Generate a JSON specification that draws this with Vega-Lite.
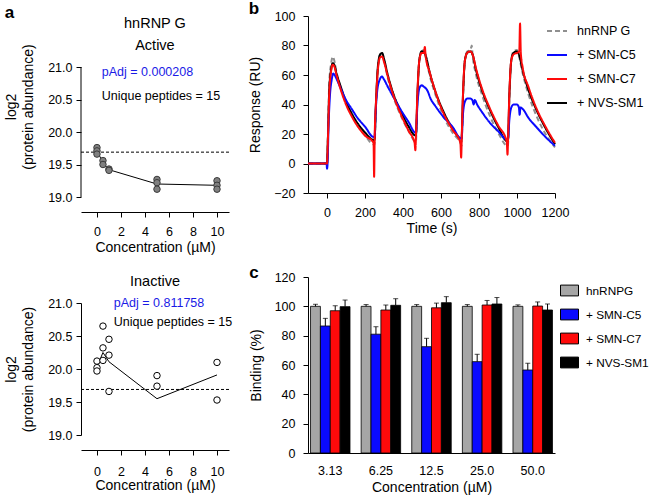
{
  "$schema": "https://vega.github.io/schema/vega-lite/v6.json",
  "padding": {"left": 4, "top": 0, "right": 0, "bottom": 0},
  "background": "white",
  "config": {
    "font": "Liberation Sans",
    "view": {"stroke": null},
    "axis": {"grid": false, "domainColor": "#000", "tickColor": "#000", "labelColor": "#000", "titleColor": "#000", "labelFontSize": 12.5, "titleFontSize": 14, "titleFontWeight": "normal", "tickSize": 5, "labelPadding": 4, "domainWidth": 1, "tickWidth": 1, "labelFlush": false, "labelOverlap": false},
    "title": {"fontWeight": "normal", "color": "#000"},
    "legend": {"labelFontSize": 12.5, "labelColor": "#000"}
  },
  "datasets": {
    "aTop": [
      {"c": 0, "v": 19.76}, {"c": 0, "v": 19.71}, {"c": 0, "v": 19.66},
      {"c": 0.5, "v": 19.56}, {"c": 0.5, "v": 19.5},
      {"c": 1, "v": 19.43}, {"c": 1, "v": 19.41},
      {"c": 5, "v": 19.27}, {"c": 5, "v": 19.22}, {"c": 5, "v": 19.12},
      {"c": 10, "v": 19.25}, {"c": 10, "v": 19.18}, {"c": 10, "v": 19.12}
    ],
    "aTopLine": [
      {"c": 0, "v": 19.71}, {"c": 0.5, "v": 19.53}, {"c": 1, "v": 19.42}, {"c": 5, "v": 19.2}, {"c": 10, "v": 19.18}
    ],
    "aBot": [
      {"c": 0, "v": 20.12}, {"c": 0, "v": 20.02}, {"c": 0, "v": 19.97},
      {"c": 0.5, "v": 20.65}, {"c": 0.5, "v": 20.32}, {"c": 0.5, "v": 20.13},
      {"c": 1, "v": 20.45}, {"c": 1, "v": 20.21}, {"c": 1, "v": 19.66},
      {"c": 5, "v": 19.9}, {"c": 5, "v": 19.74},
      {"c": 10, "v": 20.1}, {"c": 10, "v": 19.53}
    ],
    "aBotLine": [
      {"c": 0, "v": 20.03}, {"c": 0.5, "v": 20.25}, {"c": 1, "v": 20.11}, {"c": 5, "v": 19.55}, {"c": 10, "v": 19.91}
    ],
    "sensor": [
      {"s": "hnRNP G", "t": -100, "v": 0}, {"s": "hnRNP G", "t": 0, "v": 0}, {"s": "hnRNP G", "t": 5, "v": 20}, {"s": "hnRNP G", "t": 12, "v": 55}, {"s": "hnRNP G", "t": 22, "v": 68}, {"s": "hnRNP G", "t": 30, "v": 72.5}, {"s": "hnRNP G", "t": 38, "v": 70}, {"s": "hnRNP G", "t": 50, "v": 62}, {"s": "hnRNP G", "t": 70, "v": 52}, {"s": "hnRNP G", "t": 100, "v": 41}, {"s": "hnRNP G", "t": 130, "v": 33}, {"s": "hnRNP G", "t": 160, "v": 26}, {"s": "hnRNP G", "t": 200, "v": 19}, {"s": "hnRNP G", "t": 245, "v": 13},
      {"s": "hnRNP G", "t": 250, "v": 13}, {"s": "hnRNP G", "t": 258, "v": 40}, {"s": "hnRNP G", "t": 268, "v": 65}, {"s": "hnRNP G", "t": 280, "v": 74}, {"s": "hnRNP G", "t": 290, "v": 75}, {"s": "hnRNP G", "t": 300, "v": 70}, {"s": "hnRNP G", "t": 320, "v": 58}, {"s": "hnRNP G", "t": 350, "v": 45}, {"s": "hnRNP G", "t": 390, "v": 32}, {"s": "hnRNP G", "t": 430, "v": 22}, {"s": "hnRNP G", "t": 465, "v": 15},
      {"s": "hnRNP G", "t": 468, "v": 15}, {"s": "hnRNP G", "t": 476, "v": 45}, {"s": "hnRNP G", "t": 486, "v": 70}, {"s": "hnRNP G", "t": 498, "v": 76}, {"s": "hnRNP G", "t": 510, "v": 77}, {"s": "hnRNP G", "t": 520, "v": 72}, {"s": "hnRNP G", "t": 540, "v": 60}, {"s": "hnRNP G", "t": 570, "v": 47}, {"s": "hnRNP G", "t": 610, "v": 33}, {"s": "hnRNP G", "t": 660, "v": 21}, {"s": "hnRNP G", "t": 705, "v": 13},
      {"s": "hnRNP G", "t": 708, "v": 12}, {"s": "hnRNP G", "t": 716, "v": 45}, {"s": "hnRNP G", "t": 726, "v": 70}, {"s": "hnRNP G", "t": 738, "v": 76}, {"s": "hnRNP G", "t": 755, "v": 77}, {"s": "hnRNP G", "t": 762, "v": 80}, {"s": "hnRNP G", "t": 766, "v": 74}, {"s": "hnRNP G", "t": 785, "v": 60}, {"s": "hnRNP G", "t": 815, "v": 47}, {"s": "hnRNP G", "t": 855, "v": 33}, {"s": "hnRNP G", "t": 900, "v": 21}, {"s": "hnRNP G", "t": 950, "v": 12},
      {"s": "hnRNP G", "t": 952, "v": 12}, {"s": "hnRNP G", "t": 960, "v": 45}, {"s": "hnRNP G", "t": 970, "v": 70}, {"s": "hnRNP G", "t": 982, "v": 76}, {"s": "hnRNP G", "t": 1000, "v": 77}, {"s": "hnRNP G", "t": 1010, "v": 73}, {"s": "hnRNP G", "t": 1030, "v": 61}, {"s": "hnRNP G", "t": 1060, "v": 47}, {"s": "hnRNP G", "t": 1100, "v": 33}, {"s": "hnRNP G", "t": 1150, "v": 20}, {"s": "hnRNP G", "t": 1200, "v": 11},

      {"s": "+ NVS-SM1", "t": -100, "v": 0}, {"s": "+ NVS-SM1", "t": 0, "v": 0}, {"s": "+ NVS-SM1", "t": 5, "v": 18}, {"s": "+ NVS-SM1", "t": 12, "v": 50}, {"s": "+ NVS-SM1", "t": 22, "v": 64}, {"s": "+ NVS-SM1", "t": 30, "v": 68}, {"s": "+ NVS-SM1", "t": 38, "v": 67}, {"s": "+ NVS-SM1", "t": 50, "v": 61}, {"s": "+ NVS-SM1", "t": 70, "v": 53}, {"s": "+ NVS-SM1", "t": 100, "v": 42}, {"s": "+ NVS-SM1", "t": 130, "v": 34}, {"s": "+ NVS-SM1", "t": 160, "v": 27.5}, {"s": "+ NVS-SM1", "t": 200, "v": 21}, {"s": "+ NVS-SM1", "t": 245, "v": 16},
      {"s": "+ NVS-SM1", "t": 250, "v": 16}, {"s": "+ NVS-SM1", "t": 258, "v": 42}, {"s": "+ NVS-SM1", "t": 268, "v": 66}, {"s": "+ NVS-SM1", "t": 280, "v": 74}, {"s": "+ NVS-SM1", "t": 290, "v": 75}, {"s": "+ NVS-SM1", "t": 300, "v": 71}, {"s": "+ NVS-SM1", "t": 320, "v": 60}, {"s": "+ NVS-SM1", "t": 350, "v": 47}, {"s": "+ NVS-SM1", "t": 390, "v": 35}, {"s": "+ NVS-SM1", "t": 430, "v": 25}, {"s": "+ NVS-SM1", "t": 465, "v": 19},
      {"s": "+ NVS-SM1", "t": 468, "v": 19}, {"s": "+ NVS-SM1", "t": 476, "v": 47}, {"s": "+ NVS-SM1", "t": 486, "v": 70}, {"s": "+ NVS-SM1", "t": 498, "v": 76}, {"s": "+ NVS-SM1", "t": 510, "v": 76}, {"s": "+ NVS-SM1", "t": 520, "v": 73}, {"s": "+ NVS-SM1", "t": 540, "v": 62}, {"s": "+ NVS-SM1", "t": 570, "v": 49}, {"s": "+ NVS-SM1", "t": 610, "v": 36}, {"s": "+ NVS-SM1", "t": 660, "v": 24}, {"s": "+ NVS-SM1", "t": 705, "v": 17},
      {"s": "+ NVS-SM1", "t": 708, "v": 17}, {"s": "+ NVS-SM1", "t": 716, "v": 47}, {"s": "+ NVS-SM1", "t": 726, "v": 70}, {"s": "+ NVS-SM1", "t": 738, "v": 75}, {"s": "+ NVS-SM1", "t": 755, "v": 76}, {"s": "+ NVS-SM1", "t": 766, "v": 74}, {"s": "+ NVS-SM1", "t": 785, "v": 63}, {"s": "+ NVS-SM1", "t": 815, "v": 50}, {"s": "+ NVS-SM1", "t": 855, "v": 37}, {"s": "+ NVS-SM1", "t": 900, "v": 25}, {"s": "+ NVS-SM1", "t": 950, "v": 15},
      {"s": "+ NVS-SM1", "t": 952, "v": 15}, {"s": "+ NVS-SM1", "t": 960, "v": 47}, {"s": "+ NVS-SM1", "t": 970, "v": 70}, {"s": "+ NVS-SM1", "t": 982, "v": 75}, {"s": "+ NVS-SM1", "t": 1000, "v": 76}, {"s": "+ NVS-SM1", "t": 1010, "v": 74}, {"s": "+ NVS-SM1", "t": 1030, "v": 63}, {"s": "+ NVS-SM1", "t": 1060, "v": 50}, {"s": "+ NVS-SM1", "t": 1100, "v": 37}, {"s": "+ NVS-SM1", "t": 1150, "v": 24}, {"s": "+ NVS-SM1", "t": 1200, "v": 13},

      {"s": "+ SMN-C5", "t": -100, "v": 0}, {"s": "+ SMN-C5", "t": -2, "v": 0}, {"s": "+ SMN-C5", "t": 0, "v": -3.5}, {"s": "+ SMN-C5", "t": 3, "v": 0}, {"s": "+ SMN-C5", "t": 8, "v": 25}, {"s": "+ SMN-C5", "t": 15, "v": 45}, {"s": "+ SMN-C5", "t": 25, "v": 57}, {"s": "+ SMN-C5", "t": 33, "v": 61}, {"s": "+ SMN-C5", "t": 40, "v": 60}, {"s": "+ SMN-C5", "t": 55, "v": 56}, {"s": "+ SMN-C5", "t": 75, "v": 50}, {"s": "+ SMN-C5", "t": 100, "v": 43}, {"s": "+ SMN-C5", "t": 130, "v": 37}, {"s": "+ SMN-C5", "t": 160, "v": 31}, {"s": "+ SMN-C5", "t": 200, "v": 25}, {"s": "+ SMN-C5", "t": 245, "v": 18},
      {"s": "+ SMN-C5", "t": 250, "v": 18}, {"s": "+ SMN-C5", "t": 256, "v": 35}, {"s": "+ SMN-C5", "t": 265, "v": 50}, {"s": "+ SMN-C5", "t": 278, "v": 57}, {"s": "+ SMN-C5", "t": 288, "v": 59}, {"s": "+ SMN-C5", "t": 300, "v": 57}, {"s": "+ SMN-C5", "t": 320, "v": 52}, {"s": "+ SMN-C5", "t": 350, "v": 45}, {"s": "+ SMN-C5", "t": 390, "v": 36}, {"s": "+ SMN-C5", "t": 430, "v": 28}, {"s": "+ SMN-C5", "t": 465, "v": 21},
      {"s": "+ SMN-C5", "t": 468, "v": 21}, {"s": "+ SMN-C5", "t": 476, "v": 40}, {"s": "+ SMN-C5", "t": 486, "v": 51}, {"s": "+ SMN-C5", "t": 498, "v": 53}, {"s": "+ SMN-C5", "t": 510, "v": 52}, {"s": "+ SMN-C5", "t": 520, "v": 51}, {"s": "+ SMN-C5", "t": 530, "v": 49}, {"s": "+ SMN-C5", "t": 545, "v": 44}, {"s": "+ SMN-C5", "t": 570, "v": 39}, {"s": "+ SMN-C5", "t": 610, "v": 32}, {"s": "+ SMN-C5", "t": 660, "v": 25}, {"s": "+ SMN-C5", "t": 705, "v": 17},
      {"s": "+ SMN-C5", "t": 708, "v": 17}, {"s": "+ SMN-C5", "t": 716, "v": 34}, {"s": "+ SMN-C5", "t": 726, "v": 42}, {"s": "+ SMN-C5", "t": 738, "v": 44}, {"s": "+ SMN-C5", "t": 755, "v": 44}, {"s": "+ SMN-C5", "t": 765, "v": 43}, {"s": "+ SMN-C5", "t": 772, "v": 40}, {"s": "+ SMN-C5", "t": 778, "v": 43}, {"s": "+ SMN-C5", "t": 790, "v": 40}, {"s": "+ SMN-C5", "t": 815, "v": 35}, {"s": "+ SMN-C5", "t": 855, "v": 28}, {"s": "+ SMN-C5", "t": 900, "v": 22}, {"s": "+ SMN-C5", "t": 950, "v": 16},
      {"s": "+ SMN-C5", "t": 952, "v": 16}, {"s": "+ SMN-C5", "t": 960, "v": 30}, {"s": "+ SMN-C5", "t": 970, "v": 38}, {"s": "+ SMN-C5", "t": 982, "v": 40}, {"s": "+ SMN-C5", "t": 1000, "v": 40}, {"s": "+ SMN-C5", "t": 1010, "v": 38}, {"s": "+ SMN-C5", "t": 1014, "v": 33}, {"s": "+ SMN-C5", "t": 1018, "v": 38}, {"s": "+ SMN-C5", "t": 1030, "v": 37}, {"s": "+ SMN-C5", "t": 1060, "v": 31}, {"s": "+ SMN-C5", "t": 1100, "v": 25}, {"s": "+ SMN-C5", "t": 1150, "v": 18}, {"s": "+ SMN-C5", "t": 1200, "v": 12},

      {"s": "+ SMN-C7", "t": -100, "v": 0}, {"s": "+ SMN-C7", "t": 0, "v": 0}, {"s": "+ SMN-C7", "t": 5, "v": 17}, {"s": "+ SMN-C7", "t": 12, "v": 48}, {"s": "+ SMN-C7", "t": 22, "v": 63}, {"s": "+ SMN-C7", "t": 30, "v": 67}, {"s": "+ SMN-C7", "t": 38, "v": 66}, {"s": "+ SMN-C7", "t": 50, "v": 60}, {"s": "+ SMN-C7", "t": 70, "v": 51}, {"s": "+ SMN-C7", "t": 100, "v": 40}, {"s": "+ SMN-C7", "t": 130, "v": 32}, {"s": "+ SMN-C7", "t": 160, "v": 25.5}, {"s": "+ SMN-C7", "t": 200, "v": 19}, {"s": "+ SMN-C7", "t": 245, "v": 14}, {"s": "+ SMN-C7", "t": 248, "v": -9}, {"s": "+ SMN-C7", "t": 251, "v": 18},
      {"s": "+ SMN-C7", "t": 258, "v": 42}, {"s": "+ SMN-C7", "t": 268, "v": 64}, {"s": "+ SMN-C7", "t": 280, "v": 72}, {"s": "+ SMN-C7", "t": 290, "v": 72.5}, {"s": "+ SMN-C7", "t": 300, "v": 69}, {"s": "+ SMN-C7", "t": 320, "v": 59}, {"s": "+ SMN-C7", "t": 350, "v": 46}, {"s": "+ SMN-C7", "t": 390, "v": 33}, {"s": "+ SMN-C7", "t": 430, "v": 22}, {"s": "+ SMN-C7", "t": 461, "v": 14}, {"s": "+ SMN-C7", "t": 465, "v": 9}, {"s": "+ SMN-C7", "t": 469, "v": 22},
      {"s": "+ SMN-C7", "t": 476, "v": 48}, {"s": "+ SMN-C7", "t": 486, "v": 70}, {"s": "+ SMN-C7", "t": 498, "v": 75}, {"s": "+ SMN-C7", "t": 510, "v": 75}, {"s": "+ SMN-C7", "t": 515, "v": 79}, {"s": "+ SMN-C7", "t": 519, "v": 73}, {"s": "+ SMN-C7", "t": 540, "v": 62}, {"s": "+ SMN-C7", "t": 570, "v": 49}, {"s": "+ SMN-C7", "t": 610, "v": 35}, {"s": "+ SMN-C7", "t": 660, "v": 23}, {"s": "+ SMN-C7", "t": 702, "v": 14}, {"s": "+ SMN-C7", "t": 706, "v": 4}, {"s": "+ SMN-C7", "t": 710, "v": 22},
      {"s": "+ SMN-C7", "t": 716, "v": 48}, {"s": "+ SMN-C7", "t": 726, "v": 70}, {"s": "+ SMN-C7", "t": 738, "v": 75}, {"s": "+ SMN-C7", "t": 755, "v": 76}, {"s": "+ SMN-C7", "t": 766, "v": 74}, {"s": "+ SMN-C7", "t": 785, "v": 64}, {"s": "+ SMN-C7", "t": 815, "v": 51}, {"s": "+ SMN-C7", "t": 855, "v": 38}, {"s": "+ SMN-C7", "t": 900, "v": 26}, {"s": "+ SMN-C7", "t": 946, "v": 15}, {"s": "+ SMN-C7", "t": 950, "v": 6}, {"s": "+ SMN-C7", "t": 954, "v": 22},
      {"s": "+ SMN-C7", "t": 960, "v": 48}, {"s": "+ SMN-C7", "t": 970, "v": 70}, {"s": "+ SMN-C7", "t": 982, "v": 74}, {"s": "+ SMN-C7", "t": 1000, "v": 75}, {"s": "+ SMN-C7", "t": 1012, "v": 76}, {"s": "+ SMN-C7", "t": 1016, "v": 95}, {"s": "+ SMN-C7", "t": 1020, "v": 75}, {"s": "+ SMN-C7", "t": 1030, "v": 65}, {"s": "+ SMN-C7", "t": 1060, "v": 52}, {"s": "+ SMN-C7", "t": 1100, "v": 38}, {"s": "+ SMN-C7", "t": 1150, "v": 25}, {"s": "+ SMN-C7", "t": 1200, "v": 14}
    ],
    "bars": [
      {"conc": "3.13", "g": "hnRNPG", "v": 100, "hi": 101.4}, {"conc": "3.13", "g": "+ SMN-C5", "v": 86.6, "hi": 91.8}, {"conc": "3.13", "g": "+ SMN-C7", "v": 97, "hi": 100.4}, {"conc": "3.13", "g": "+ NVS-SM1", "v": 99.8, "hi": 104.3},
      {"conc": "6.25", "g": "hnRNPG", "v": 100, "hi": 101.2}, {"conc": "6.25", "g": "+ SMN-C5", "v": 81, "hi": 86.1}, {"conc": "6.25", "g": "+ SMN-C7", "v": 97.5, "hi": 100.9}, {"conc": "6.25", "g": "+ NVS-SM1", "v": 100.7, "hi": 105.2},
      {"conc": "12.5", "g": "hnRNPG", "v": 100, "hi": 101.2}, {"conc": "12.5", "g": "+ SMN-C5", "v": 72.5, "hi": 78.2}, {"conc": "12.5", "g": "+ SMN-C7", "v": 99, "hi": 102.2}, {"conc": "12.5", "g": "+ NVS-SM1", "v": 102.5, "hi": 106.6},
      {"conc": "25.0", "g": "hnRNPG", "v": 100, "hi": 101.2}, {"conc": "25.0", "g": "+ SMN-C5", "v": 62.3, "hi": 67.3}, {"conc": "25.0", "g": "+ SMN-C7", "v": 100.9, "hi": 104}, {"conc": "25.0", "g": "+ NVS-SM1", "v": 101.6, "hi": 106},
      {"conc": "50.0", "g": "hnRNPG", "v": 100, "hi": 101}, {"conc": "50.0", "g": "+ SMN-C5", "v": 56.6, "hi": 61.2}, {"conc": "50.0", "g": "+ SMN-C7", "v": 100.2, "hi": 103}, {"conc": "50.0", "g": "+ NVS-SM1", "v": 97.5, "hi": 101.6}
    ]
  },
  "hconcat": [
    {
      "title": {"text": "a", "anchor": "start", "frame": "bounds", "fontSize": 17, "fontWeight": "bold", "offset": -6},
      "spacing": 18,
      "resolve": {"scale": {"x": "independent", "y": "independent"}},
      "vconcat": [
        {
          "width": 148, "height": 181,
          "layer": [
            {"data": {"values": [{}]}, "mark": {"type": "rule", "strokeDash": [3, 2], "color": "#000", "strokeWidth": 1},
             "encoding": {"y": {"datum": 19.69, "scale": {"domain": [19, 21.785], "nice": false, "zero": false}, "axis": {"values": [19, 19.5, 20, 20.5, 21], "format": ".1f", "domain": false, "title": ["log2", "(protein abundance)"], "titlePadding": 12, "titleLineHeight": 17, "labelOverlap": false, "labelFontSize": 12.5, "titleFontSize": 14}}}},
            {"data": {"values": [{}]}, "mark": {"type": "rule", "color": "#000", "strokeWidth": 1},
             "encoding": {
               "x": {"datum": -1.33, "scale": {"domain": [-1.33, 11], "nice": false, "zero": false}, "axis": {"values": [0, 2, 4, 6, 8, 10], "offset": 15, "title": "Concentration (µM)", "labelPadding": 8, "titlePadding": 3, "labelOverlap": false, "labelFontSize": 12.5, "titleFontSize": 14}},
               "y": {"datum": 19, "scale": {"domain": [19, 21.785], "nice": false, "zero": false}, "axis": {"values": [19, 19.5, 20, 20.5, 21], "format": ".1f", "domain": false, "title": ["log2", "(protein abundance)"], "titlePadding": 12, "titleLineHeight": 17, "labelOverlap": false, "labelFontSize": 12.5, "titleFontSize": 14}},
               "y2": {"datum": 21}}},
            {"data": {"name": "aTopLine"}, "mark": {"type": "line", "color": "#000", "strokeWidth": 1},
             "encoding": {
               "x": {"field": "c", "type": "quantitative", "scale": {"domain": [-1.33, 11], "nice": false, "zero": false}, "axis": {"values": [0, 2, 4, 6, 8, 10], "offset": 15, "title": "Concentration (µM)", "labelPadding": 8, "titlePadding": 3, "labelOverlap": false, "labelFontSize": 12.5, "titleFontSize": 14}},
               "y": {"field": "v", "type": "quantitative", "scale": {"domain": [19, 21.785], "nice": false, "zero": false}, "axis": {"values": [19, 19.5, 20, 20.5, 21], "format": ".1f", "domain": false, "title": ["log2", "(protein abundance)"], "titlePadding": 12, "titleLineHeight": 17, "labelOverlap": false, "labelFontSize": 12.5, "titleFontSize": 14}}}},
            {"data": {"name": "aTop"}, "mark": {"type": "point", "filled": true, "fill": "#808080", "stroke": "#3a3a3a", "strokeWidth": 1, "size": 42, "opacity": 1},
             "encoding": {
               "x": {"field": "c", "type": "quantitative", "scale": {"domain": [-1.33, 11], "nice": false, "zero": false}, "axis": {"values": [0, 2, 4, 6, 8, 10], "offset": 15, "title": "Concentration (µM)", "labelPadding": 8, "titlePadding": 3, "labelOverlap": false, "labelFontSize": 12.5, "titleFontSize": 14}},
               "y": {"field": "v", "type": "quantitative", "scale": {"domain": [19, 21.785], "nice": false, "zero": false}, "axis": {"values": [19, 19.5, 20, 20.5, 21], "format": ".1f", "domain": false, "title": ["log2", "(protein abundance)"], "titlePadding": 12, "titleLineHeight": 17, "labelOverlap": false, "labelFontSize": 12.5, "titleFontSize": 14}}}},
            {"data": {"values": [{}]}, "mark": {"type": "text", "align": "center", "baseline": "middle", "color": "#000", "fontSize": 14.5},
             "encoding": {
               "x": {"datum": 4.83, "scale": {"domain": [-1.33, 11], "nice": false, "zero": false}, "axis": {"values": [0, 2, 4, 6, 8, 10], "offset": 15, "title": "Concentration (µM)", "labelPadding": 8, "titlePadding": 3, "labelOverlap": false, "labelFontSize": 12.5, "titleFontSize": 14}},
               "y": {"datum": 21.66, "scale": {"domain": [19, 21.785], "nice": false, "zero": false}, "axis": {"values": [19, 19.5, 20, 20.5, 21], "format": ".1f", "domain": false, "title": ["log2", "(protein abundance)"], "titlePadding": 12, "titleLineHeight": 17, "labelOverlap": false, "labelFontSize": 12.5, "titleFontSize": 14}},
               "text": {"value": "hnRNP G"}}},
            {"data": {"values": [{}]}, "mark": {"type": "text", "align": "center", "baseline": "middle", "color": "#000", "fontSize": 14.5},
             "encoding": {
               "x": {"datum": 4.83, "scale": {"domain": [-1.33, 11], "nice": false, "zero": false}, "axis": {"values": [0, 2, 4, 6, 8, 10], "offset": 15, "title": "Concentration (µM)", "labelPadding": 8, "titlePadding": 3, "labelOverlap": false, "labelFontSize": 12.5, "titleFontSize": 14}},
               "y": {"datum": 21.33, "scale": {"domain": [19, 21.785], "nice": false, "zero": false}, "axis": {"values": [19, 19.5, 20, 20.5, 21], "format": ".1f", "domain": false, "title": ["log2", "(protein abundance)"], "titlePadding": 12, "titleLineHeight": 17, "labelOverlap": false, "labelFontSize": 12.5, "titleFontSize": 14}},
               "text": {"value": "Active"}}},
            {"data": {"values": [{}]}, "mark": {"type": "text", "align": "left", "baseline": "middle", "color": "#1a1ae6", "fontSize": 12.5},
             "encoding": {
               "x": {"datum": 0.4, "scale": {"domain": [-1.33, 11], "nice": false, "zero": false}, "axis": {"values": [0, 2, 4, 6, 8, 10], "offset": 15, "title": "Concentration (µM)", "labelPadding": 8, "titlePadding": 3, "labelOverlap": false, "labelFontSize": 12.5, "titleFontSize": 14}},
               "y": {"datum": 20.92, "scale": {"domain": [19, 21.785], "nice": false, "zero": false}, "axis": {"values": [19, 19.5, 20, 20.5, 21], "format": ".1f", "domain": false, "title": ["log2", "(protein abundance)"], "titlePadding": 12, "titleLineHeight": 17, "labelOverlap": false, "labelFontSize": 12.5, "titleFontSize": 14}},
               "text": {"value": "pAdj = 0.000208"}}},
            {"data": {"values": [{}]}, "mark": {"type": "text", "align": "left", "baseline": "middle", "color": "#000", "fontSize": 12.5},
             "encoding": {
               "x": {"datum": 0.4, "scale": {"domain": [-1.33, 11], "nice": false, "zero": false}, "axis": {"values": [0, 2, 4, 6, 8, 10], "offset": 15, "title": "Concentration (µM)", "labelPadding": 8, "titlePadding": 3, "labelOverlap": false, "labelFontSize": 12.5, "titleFontSize": 14}},
               "y": {"datum": 20.55, "scale": {"domain": [19, 21.785], "nice": false, "zero": false}, "axis": {"values": [19, 19.5, 20, 20.5, 21], "format": ".1f", "domain": false, "title": ["log2", "(protein abundance)"], "titlePadding": 12, "titleLineHeight": 17, "labelOverlap": false, "labelFontSize": 12.5, "titleFontSize": 14}},
               "text": {"value": "Unique peptides = 15"}}}
          ]
        },
        {
          "width": 148, "height": 132,
          "title": {"text": "Inactive", "fontSize": 14.5, "offset": 8, "anchor": "middle"},
          "layer": [
            {"data": {"values": [{}]}, "mark": {"type": "rule", "strokeDash": [3, 2], "color": "#000", "strokeWidth": 1},
             "encoding": {"y": {"datum": 19.69, "scale": {"domain": [19, 21], "nice": false, "zero": false}, "axis": {"values": [19, 19.5, 20, 20.5, 21], "format": ".1f", "title": ["log2", "(protein abundance)"], "titlePadding": 12, "titleLineHeight": 17, "labelOverlap": false, "labelFontSize": 12.5, "titleFontSize": 14}}}},
            {"data": {"name": "aBotLine"}, "mark": {"type": "line", "color": "#000", "strokeWidth": 1},
             "encoding": {
               "x": {"field": "c", "type": "quantitative", "scale": {"domain": [-1.33, 11], "nice": false, "zero": false}, "axis": {"values": [0, 2, 4, 6, 8, 10], "offset": 15, "title": "Concentration (µM)", "labelPadding": 10, "titlePadding": 1, "labelOverlap": false, "labelFontSize": 12.5, "titleFontSize": 14}},
               "y": {"field": "v", "type": "quantitative", "scale": {"domain": [19, 21], "nice": false, "zero": false}, "axis": {"values": [19, 19.5, 20, 20.5, 21], "format": ".1f", "title": ["log2", "(protein abundance)"], "titlePadding": 12, "titleLineHeight": 17, "labelOverlap": false, "labelFontSize": 12.5, "titleFontSize": 14}}}},
            {"data": {"name": "aBot"}, "mark": {"type": "point", "filled": false, "fill": "white", "stroke": "#000", "strokeWidth": 1, "size": 42, "opacity": 1},
             "encoding": {
               "x": {"field": "c", "type": "quantitative", "scale": {"domain": [-1.33, 11], "nice": false, "zero": false}, "axis": {"values": [0, 2, 4, 6, 8, 10], "offset": 15, "title": "Concentration (µM)", "labelPadding": 10, "titlePadding": 1, "labelOverlap": false, "labelFontSize": 12.5, "titleFontSize": 14}},
               "y": {"field": "v", "type": "quantitative", "scale": {"domain": [19, 21], "nice": false, "zero": false}, "axis": {"values": [19, 19.5, 20, 20.5, 21], "format": ".1f", "title": ["log2", "(protein abundance)"], "titlePadding": 12, "titleLineHeight": 17, "labelOverlap": false, "labelFontSize": 12.5, "titleFontSize": 14}}}},
            {"data": {"values": [{}]}, "mark": {"type": "text", "align": "left", "baseline": "middle", "color": "#1a1ae6", "fontSize": 12.5},
             "encoding": {
               "x": {"datum": 1.4, "scale": {"domain": [-1.33, 11], "nice": false, "zero": false}, "axis": {"values": [0, 2, 4, 6, 8, 10], "offset": 15, "title": "Concentration (µM)", "labelPadding": 10, "titlePadding": 1, "labelOverlap": false, "labelFontSize": 12.5, "titleFontSize": 14}},
               "y": {"datum": 21.0, "scale": {"domain": [19, 21], "nice": false, "zero": false}, "axis": {"values": [19, 19.5, 20, 20.5, 21], "format": ".1f", "title": ["log2", "(protein abundance)"], "titlePadding": 12, "titleLineHeight": 17, "labelOverlap": false, "labelFontSize": 12.5, "titleFontSize": 14}},
               "text": {"value": "pAdj = 0.811758"}}},
            {"data": {"values": [{}]}, "mark": {"type": "text", "align": "left", "baseline": "middle", "color": "#000", "fontSize": 12.5},
             "encoding": {
               "x": {"datum": 1.4, "scale": {"domain": [-1.33, 11], "nice": false, "zero": false}, "axis": {"values": [0, 2, 4, 6, 8, 10], "offset": 15, "title": "Concentration (µM)", "labelPadding": 10, "titlePadding": 1, "labelOverlap": false, "labelFontSize": 12.5, "titleFontSize": 14}},
               "y": {"datum": 20.71, "scale": {"domain": [19, 21], "nice": false, "zero": false}, "axis": {"values": [19, 19.5, 20, 20.5, 21], "format": ".1f", "title": ["log2", "(protein abundance)"], "titlePadding": 12, "titleLineHeight": 17, "labelOverlap": false, "labelFontSize": 12.5, "titleFontSize": 14}},
               "text": {"value": "Unique peptides = 15"}}}
          ]
        }
      ]
    },
    {
      "spacing": 28,
      "resolve": {"scale": {"x": "independent", "y": "independent", "color": "independent", "strokeDash": "independent", "fill": "independent"}},
      "vconcat": [
        {
          "width": 247, "height": 177,
          "title": {"text": "b", "anchor": "start", "frame": "bounds", "fontSize": 17, "fontWeight": "bold", "offset": -8},
          "data": {"name": "sensor"},
          "mark": {"type": "line", "strokeWidth": 2, "interpolate": "monotone"},
          "encoding": {
            "x": {"field": "t", "type": "quantitative", "scale": {"domain": [-100, 1200], "nice": false, "zero": false}, "axis": {"values": [0, 200, 400, 600, 800, 1000, 1200], "format": "d", "title": "Time (s)", "labelPadding": 8, "titlePadding": 3, "labelOverlap": false, "labelFontSize": 12.5, "titleFontSize": 14}},
            "y": {"field": "v", "type": "quantitative", "scale": {"domain": [-20, 100], "nice": false, "zero": false}, "axis": {"values": [-20, 0, 20, 40, 60, 80, 100], "title": "Response (RU)", "labelPadding": 8, "titlePadding": 11, "labelOverlap": false, "labelFontSize": 12.5, "titleFontSize": 14}},
            "color": {"field": "s", "type": "nominal", "scale": {"domain": ["hnRNP G", "+ SMN-C5", "+ SMN-C7", "+ NVS-SM1"], "range": ["#8f8f8f", "#0a0aff", "#ff0a0a", "#000000"]},
              "legend": {"orient": "none", "legendX": 238, "legendY": 4, "title": null, "symbolType": "stroke", "symbolSize": 400, "symbolStrokeWidth": 2, "rowPadding": 6, "labelOffset": 9, "labelFontSize": 12.5}},
            "strokeDash": {"field": "s", "type": "nominal", "scale": {"domain": ["hnRNP G", "+ SMN-C5", "+ SMN-C7", "+ NVS-SM1"], "range": [[5, 3], [1, 0], [1, 0], [1, 0]]},
              "legend": {"orient": "none", "legendX": 238, "legendY": 4, "title": null, "symbolType": "stroke", "symbolSize": 400, "symbolStrokeWidth": 2, "rowPadding": 6, "labelOffset": 9, "labelFontSize": 12.5}}
          }
        },
        {
          "width": 247, "height": 176,
          "title": {"text": "c", "anchor": "start", "frame": "bounds", "fontSize": 17, "fontWeight": "bold", "offset": -11},
          "data": {"name": "bars"},
          "encoding": {
            "x": {"field": "conc", "type": "nominal", "sort": null, "scale": {"paddingInner": 0.22, "paddingOuter": 0.05}, "axis": {"title": "Concentration (µM)", "labelAngle": 0, "ticks": false, "labelPadding": 11, "titlePadding": 4, "labelFontSize": 12.5, "titleFontSize": 14}},
            "xOffset": {"field": "g", "type": "nominal", "sort": ["hnRNPG", "+ SMN-C5", "+ SMN-C7", "+ NVS-SM1"], "scale": {"paddingInner": 0, "paddingOuter": 0}}
          },
          "layer": [
            {"mark": {"type": "bar", "stroke": "#000", "strokeWidth": 0.8},
             "encoding": {
               "y": {"field": "v", "type": "quantitative", "title": "Binding (%)", "scale": {"domain": [0, 120], "nice": false}, "axis": {"values": [0, 20, 40, 60, 80, 100, 120], "labelPadding": 8, "titlePadding": 11, "labelOverlap": false, "labelFontSize": 12.5, "titleFontSize": 14}},
               "fill": {"field": "g", "type": "nominal", "scale": {"domain": ["hnRNPG", "+ SMN-C5", "+ SMN-C7", "+ NVS-SM1"], "range": ["#a6a6a6", "#0a0aff", "#ff0a0a", "#000000"]},
                 "legend": {"orient": "none", "legendX": 252, "legendY": 4, "title": null, "symbolType": "M-1,-0.6L1,-0.6L1,0.6L-1,0.6Z", "symbolSize": 324, "symbolStrokeColor": "#000", "symbolStrokeWidth": 1, "rowPadding": 7, "labelOffset": 7, "labelFontSize": 11.8}}}},
            {"mark": {"type": "rule", "color": "#000", "strokeWidth": 1},
             "encoding": {
               "y": {"field": "v", "type": "quantitative", "title": "Binding (%)", "scale": {"domain": [0, 120], "nice": false}, "axis": {"values": [0, 20, 40, 60, 80, 100, 120], "labelPadding": 8, "titlePadding": 11, "labelOverlap": false, "labelFontSize": 12.5, "titleFontSize": 14}},
               "y2": {"field": "hi"}}},
            {"mark": {"type": "tick", "color": "#000", "thickness": 1, "size": 5},
             "encoding": {
               "y": {"field": "hi", "type": "quantitative", "title": "Binding (%)", "scale": {"domain": [0, 120], "nice": false}, "axis": {"values": [0, 20, 40, 60, 80, 100, 120], "labelPadding": 8, "titlePadding": 11, "labelOverlap": false, "labelFontSize": 12.5, "titleFontSize": 14}}}}
          ]
        }
      ]
    }
  ],
  "spacing": 15,
  "resolve": {"scale": {"x": "independent", "y": "independent"}}
}
